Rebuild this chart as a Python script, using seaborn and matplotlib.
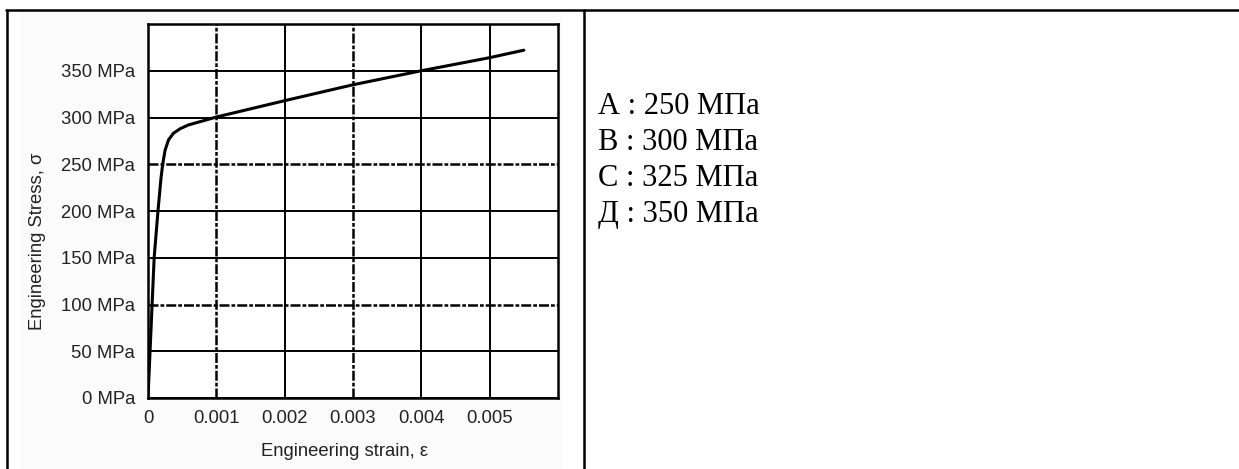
import matplotlib
matplotlib.use("Agg")
import matplotlib.pyplot as plt
from matplotlib.lines import Line2D
from matplotlib.patches import Rectangle
import pandas as pd
import seaborn as sns

# Stress-strain curve (engineering values)
strain = [0, 0.00003, 0.00009, 0.000146, 0.00019, 0.000215, 0.00025, 0.0003,
          0.00037, 0.00047, 0.00059, 0.00076, 0.001, 0.002, 0.003, 0.004,
          0.005, 0.0055]
stress = [0, 50, 150, 200, 235, 250, 265, 276, 283, 288, 292, 295.5, 300.5,
          318, 335, 350, 364, 372]

stress_ticks = [0, 50, 100, 150, 200, 250, 300, 350]
stress_tick_labels = ["0 MPa", "50 MPa", "100 MPa", "150 MPa", "200 MPa",
                      "250 MPa", "300 MPa", "350 MPa"]
strain_ticks = [0, 0.001, 0.002, 0.003, 0.004, 0.005]
strain_tick_labels = ["0", "0.001", "0.002", "0.003", "0.004", "0.005"]

# answer choices shown beside the chart
choices = ["А : 250 МПа", "В : 300 МПа", "С : 325 МПа", "Д : 350 МПа"]

sns.set_style("white")
plt.rcParams["font.family"] = ["Liberation Sans", "DejaVu Sans"]

W, H = 1239, 469
fig = plt.figure(figsize=(W / 100, H / 100), dpi=100)
fig.patch.set_facecolor("white")

# faint backdrop of the embedded chart picture
fig.add_artist(Rectangle((20 / W, 0), (562 - 20) / W, 1 - 10 / H,
                         transform=fig.transFigure, facecolor="#fbfbfb",
                         edgecolor="none", zorder=0))

ax = fig.add_axes([148 / W, 1 - 398 / H, (558 - 148) / W, (398 - 24) / H])
ax.set_facecolor("white")

df = pd.DataFrame({"strain": strain, "stress": stress})
sns.lineplot(data=df, x="strain", y="stress", ax=ax, color="black",
             linewidth=2.2, sort=False, zorder=5)

ax.set_xlim(0, 0.006)
ax.set_ylim(0, 400)
ax.set_xticks(strain_ticks)
ax.set_xticklabels(strain_tick_labels)
ax.set_yticks(stress_ticks)
ax.set_yticklabels(stress_tick_labels)
ax.tick_params(axis="both", length=0, labelsize=13.3, colors="#222222")
ax.tick_params(axis="x", pad=8.5)
ax.tick_params(axis="y", pad=9.3)

ax.grid(True, color="black", linewidth=1.4)
dashed_x = {0.001, 0.003}
dashed_y = {100, 250}
broken = (0, (4, 0.8, 1.5, 0.8))
for loc, gl in zip(strain_ticks, ax.xaxis.get_gridlines()):
    if loc in dashed_x:
        gl.set_linestyle(broken)
        gl.set_linewidth(1.8)
for loc, gl in zip(stress_ticks, ax.yaxis.get_gridlines()):
    if loc in dashed_y:
        gl.set_linestyle(broken)
        gl.set_linewidth(1.8)

for s in ax.spines.values():
    s.set_visible(True)
    s.set_color("black")
    s.set_linewidth(1.8)

ax.set_xlabel("Engineering strain, ε", fontsize=13.3, color="#222222")
ax.set_ylabel("Engineering Stress, σ", fontsize=13.3, color="#222222")
ax.xaxis.set_label_coords(0.48, (398 - 452) / 374)
ax.yaxis.set_label_coords((38 - 148) / 410, (398 - 241) / 374)
ax.xaxis.label.set_verticalalignment("center")
ax.yaxis.label.set_verticalalignment("center")

# table frame
lw_frame = 1.8
fig.add_artist(Line2D([6 / W, 1], [1 - 10 / H, 1 - 10 / H],
                      transform=fig.transFigure, color="black", lw=lw_frame))
fig.add_artist(Line2D([7 / W, 7 / W], [0, 1 - 10 / H],
                      transform=fig.transFigure, color="black", lw=lw_frame))
fig.add_artist(Line2D([584 / W, 584 / W], [0, 1 - 10 / H],
                      transform=fig.transFigure, color="black", lw=lw_frame))

baselines = [114, 150, 186, 222]
for txt, yb in zip(choices, baselines):
    fig.text(598 / W, 1 - yb / H, txt, fontsize=22, va="baseline", ha="left",
             family=["Liberation Serif", "DejaVu Serif"], color="black")

fig.savefig("out.png", dpi=100, facecolor="white")
